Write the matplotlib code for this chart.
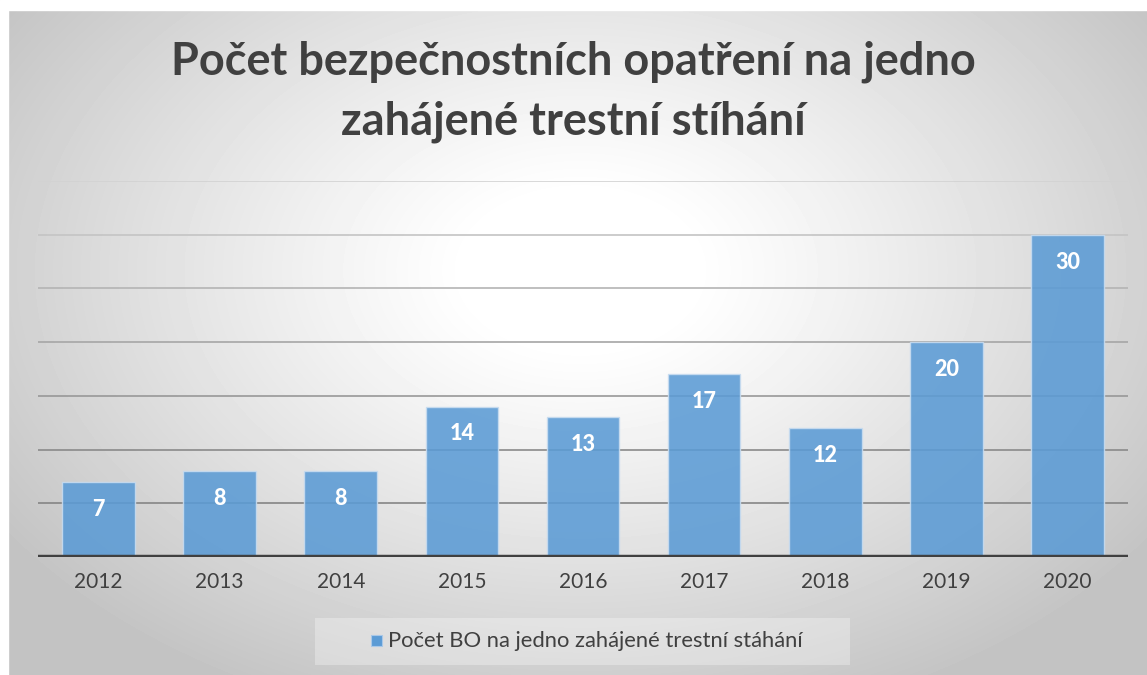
import numpy as np
import matplotlib.pyplot as plt
from matplotlib.patches import Rectangle

# -----------------------------
# Data
# -----------------------------
years = ["2012", "2013", "2014", "2015", "2016", "2017", "2018", "2019", "2020"]
values = [7, 8, 8, 14, 13, 17, 12, 20, 30]
series_name = "Počet BO na jedno zahájené trestní stáhání"
title_lines = ["Počet bezpečnostních opatření na jedno", "zahájené trestní stíhání"]

W, H = 1147, 675
fig = plt.figure(figsize=(W / 100, H / 100), dpi=100)

# radial gradient background
bg = fig.add_axes([0, 0, 1, 1], zorder=-10)
yy, xx = np.mgrid[0:H, 0:W]
r = np.sqrt(((xx - 580) / 620.0) ** 2 + ((yy - 270) / 420.0) ** 2)
shade = 1.0 - 0.235 * np.clip((r - 0.18) / 0.95, 0, 1) ** 1.1
bg.imshow(shade, cmap="gray", vmin=0, vmax=1, aspect="auto",
          extent=[0, W, H, 0], interpolation="bilinear")
# white page margin left / top
bg.add_patch(Rectangle((0, 0), 8, H, color="white", zorder=5))
bg.add_patch(Rectangle((0, 0), W, 10, color="white", zorder=5))
bg.set_xlim(0, W)
bg.set_ylim(H, 0)
bg.axis("off")

# plot area (pixel placement)
left, right, bottom, top = 38, 1128, 557, 181
ax = fig.add_axes([left / W, 1 - bottom / H, (right - left) / W, (bottom - top) / H])
ax.patch.set_alpha(0)

x = np.arange(len(years))
ax.set_xlim(-0.5, len(years) - 0.5)
ax.set_ylim(0, 35)

# gridlines, lighter towards the top
grid_levels = [5, 10, 15, 20, 25, 30, 35]
grid_colors = ["#858585", "#8a8a8a", "#989898", "#a6a6a6", "#b4b4b4", "#c4c4c4", "#d2d2d2"]
for lvl, c in zip(grid_levels, grid_colors):
    ax.axhline(lvl, color=c, lw=1.2, zorder=1)

ax.bar(x, values, width=0.6, color="#5b9bd5", alpha=0.88,
       edgecolor="#c8dcf0", linewidth=1.0, zorder=2)

for xi, v in zip(x, values):
    ax.text(xi, v - 2.55, str(v), ha="center", va="center", color="white",
            fontsize=15.5, fontweight=900, family="Lato", zorder=4)

ax.axhline(0, color="#404040", lw=3.2, zorder=3)

ax.set_xticks(x)
ax.set_xticklabels(years, fontsize=15, color="#404040", family="Lato")
ax.tick_params(axis="x", length=0, pad=11)
ax.set_yticks([])
for s in ax.spines.values():
    s.set_visible(False)

fig.text(0.5, 1 - 62 / H, title_lines[0], ha="center", va="center",
         fontsize=32.5, fontweight="bold", color="#404040", family="Lato")
fig.text(0.5, 1 - 122 / H, title_lines[1], ha="center", va="center",
         fontsize=32.5, fontweight="bold", color="#404040", family="Lato")

# legend box
bg.add_patch(Rectangle((315, 618), 535, 47, color="white", alpha=0.3, lw=0, zorder=6))
bg.add_patch(Rectangle((371, 635), 11, 11, facecolor="#5b9bd5", edgecolor="#a9c8e8",
                       lw=0.8, zorder=7))
bg.text(388, 641, series_name, ha="left", va="center", fontsize=15.8, color="#404040",
        family="Lato", zorder=7)

fig.savefig("out.png", dpi=100)
